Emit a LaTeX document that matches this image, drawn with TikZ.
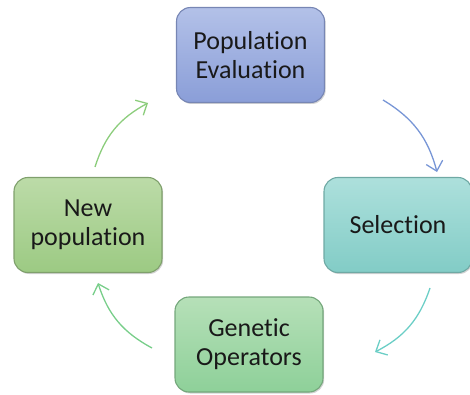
\documentclass[tikz,border=0pt]{standalone}
\usepackage{fontspec}
\setmainfont{Carlito}[Ligatures=NoCommon]
\usetikzlibrary{arrows.meta,shadows}

\definecolor{evalTop}{HTML}{B3C1E8}
\definecolor{evalBot}{HTML}{8A9ED8}
\definecolor{evalLine}{HTML}{7786B4}
\definecolor{selTop}{HTML}{ADE0DC}
\definecolor{selBot}{HTML}{82CCC6}
\definecolor{selLine}{HTML}{6FA9A4}
\definecolor{newTop}{HTML}{BCDBA8}
\definecolor{newBot}{HTML}{9CCA83}
\definecolor{newLine}{HTML}{7FA06C}
\definecolor{genTop}{HTML}{B6E0B8}
\definecolor{genBot}{HTML}{8ED099}
\definecolor{genLine}{HTML}{74A77B}
\definecolor{arrGreenA}{HTML}{8CCD7C}
\definecolor{arrBlue}{HTML}{7896D6}
\definecolor{arrTeal}{HTML}{6BCEC6}
\definecolor{arrGreenB}{HTML}{78CE8A}

\tikzset{
  stage/.style={draw, line width=1.1pt, rounded corners=14pt,
    minimum width=148pt, minimum height=95pt, align=center,
    font=\fontsize{26}{29}\selectfont, text=black!90,
    drop shadow={shadow xshift=1.2pt, shadow yshift=-1.5pt, opacity=0.35}},
  cycle/.style={line width=1.3pt, -{Straight Barb[length=9pt,width=17pt,line width=1.3pt]}, bend left=22}
}

\begin{document}
\begin{tikzpicture}[x=1pt,y=1pt]
\useasboundingbox (0,0) rectangle (470,394);

\node[stage, top color=evalTop, bottom color=evalBot, draw=evalLine] (eval) at (250.5,339) {Population\\Evaluation};
\node[stage, top color=selTop, bottom color=selBot, draw=selLine] (sel) at (398,169) {Selection};
\node[stage, top color=newTop, bottom color=newBot, draw=newLine] (newpop) at (88,169) {New\\population};
\node[stage, top color=genTop, bottom color=genBot, draw=genLine] (gen) at (249,49.5) {Genetic\\Operators};

% free ends of the cycle arrows
\coordinate (c1s) at (95,227);  \coordinate (c1e) at (148,291);
\coordinate (c2s) at (383,294); \coordinate (c2e) at (437,222);
\coordinate (c3s) at (430,106); \coordinate (c3e) at (375,42);
\coordinate (c4s) at (152,46);  \coordinate (c4e) at (98,111);

\draw[cycle, draw=arrGreenA] (c1s) to (c1e);
\draw[cycle, draw=arrBlue] (c2s) to (c2e);
\draw[cycle, draw=arrTeal] (c3s) to (c3e);
\draw[cycle, draw=arrGreenB] (c4s) to (c4e);
\end{tikzpicture}
\end{document}
